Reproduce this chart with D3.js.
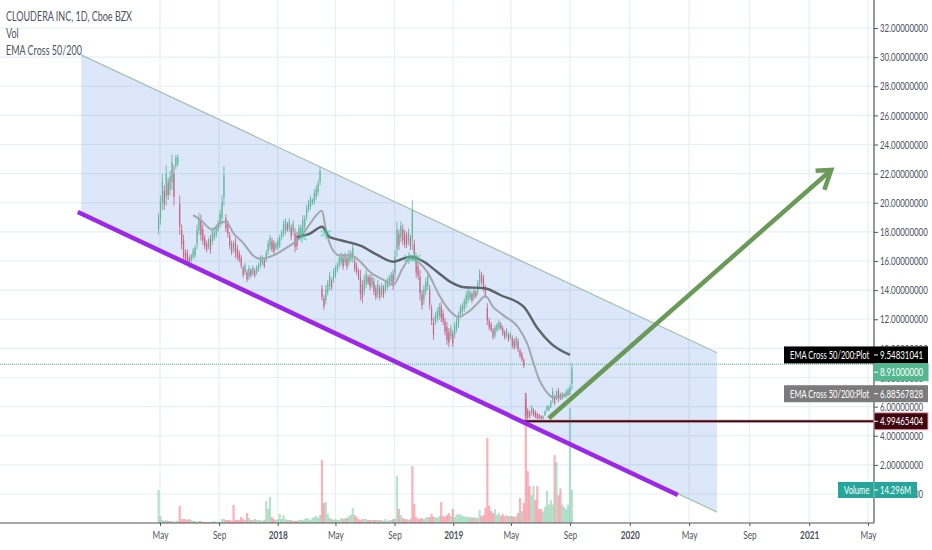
<!DOCTYPE html>
<html>
<head>
<meta charset="utf-8">
<script src="https://cdnjs.cloudflare.com/ajax/libs/d3/7.8.5/d3.min.js"></script>
<style>
  html, body { margin: 0; padding: 0; background: #fff; overflow: hidden; }
  text { font-family: "Lato", sans-serif; }
  .tick text { fill: #4c525e; font-size: 11.5px; }
  .tick line { stroke: #555; }
</style>
</head>
<body>
<svg id="chart" width="932" height="550"></svg>
<script>
// axis ticks
var priceTicks = [0, 2, 4, 6, 8, 10, 12, 14, 16, 18, 20, 22, 24, 26, 28, 30, 32];
var timeTicks = ["2017-05-01", "2017-09-01", "2018-01-01", "2018-05-01", "2018-09-01", "2019-01-01", "2019-05-01", "2019-09-01", "2020-01-01", "2020-05-01", "2020-09-01", "2021-01-01", "2021-05-01"];
var timeLabels = ["May", "Sep", "2018", "May", "Sep", "2019", "May", "Sep", "2020", "May", "Sep", "2021", "May"];

// price, one entry every 4 days from 2017-04-28
var candleHigh = [
  19.3,20.5,22,21.2,22.6,21.7,22.2,23.3,22.6,23.3,23.3,
  20.5,18.5,17.8,16.8,16.8,16.4,16.5,16.9,17.1,18.5,
  19.3,19.2,18.5,17.8,17.4,17.6,17.8,18.3,18.1,18.5,
  18.8,19.5,20.5,22.5,19.2,18.8,18,17.4,17.4,17.6,
  17.1,16.75,16.4,15.7,15.9,15.4,15.7,15.5,15.7,15.5,
  15.7,15.9,16.4,16.4,16.2,16.75,17.45,17.8,17.6,17.45,
  17.3,17.6,17.8,18.15,18.8,18.95,18.7,18.95,18.5,18.8,
  18.25,18,18.5,18.5,19.15,19.15,19.85,20.2,20.5,20.3,
  20.9,21.2,21.55,22.45,14.35,13.65,14.35,14.7,15.25,14.85,
  15.5,15.7,15.9,16.4,16.6,16.4,16.6,16.4,16.75,16.75,
  17.2,16.2,15.9,15.5,15.4,14.7,15.05,15.4,15.05,15.1,
  15.05,14.85,14.35,14.7,14.35,14.5,14.35,14.7,14.85,15.05,
  15.25,15.4,16.75,18.7,18.15,18.7,18.5,18.15,18,18.25,
  17.8,20.2,17.45,16.4,15.9,15.4,14,14.35,14.85,15.25,
  14.35,13,12.1,12.5,12.8,13.1,13.2,12.65,12.1,11.8,
  11.4,11.6,11.25,11.8,12.1,12.5,13,13.1,13.45,13.9,
  14.15,14,13.9,14.15,14,14.7,15.45,15.25,15.05,14.35,
  13.1,12.1,11.8,11.4,11.6,11.75,11.95,11.8,11.55,11.25,
  11.4,11.1,11.1,10.9,10.7,10.85,10.7,10,9.75,9.35,
  6.95,5.9,5.75,6.1,5.9,5.75,5.6,5.5,5.4,5.4,
  5.75,6.1,6.1,6.45,7.3,6.8,7.15,7.3,6.95,7,6.95,7.15,7.3,7.5,9
];
var candleLow = [
  17.8,18.5,19.5,19.5,19.8,20.2,20.5,20.9,19.8,22.3,22.5,
  17.8,16.8,15.9,15.9,15.7,15.5,15.9,16.1,16.2,16.8,
  17.8,17.4,17.1,16.8,16.6,16.8,16.5,17.1,17.4,17.6,
  18,18.3,18.5,19.8,18,17.6,16.8,16.4,16.6,16.2,
  16.05,15.9,15.5,14.85,15.05,14.55,14.7,14.85,15,14.85,
  15.05,15.25,15.5,15.7,15.5,15.9,16.4,16.75,16.6,16.4,
  16.75,16.75,16.9,17.45,17.65,17.8,18,18,17.45,17.8,
  16.6,16.75,17.45,17.6,17.65,18.15,18.8,19.35,19.5,19.85,
  19.85,20.2,20.5,21.2,13.3,12.65,13,13.65,14,14,
  14.5,14.85,15.2,15.5,15.7,15.4,15.7,15.4,15.7,15.9,
  15.9,15.25,15.05,14.7,13.3,13.1,13.65,14.15,14.35,14,
  14.15,13.65,13.3,13.45,13.3,13.5,13.45,13.8,14,14.2,
  14.35,14,14.7,16.3,16.75,17.3,17.1,16.9,16.9,17.1,
  16.75,16.75,16.2,14.85,14.7,13.3,12.65,13,13.65,14,
  12.65,11.6,10.6,11.6,11.8,11.95,11.8,11.6,10.9,10.25,
  10.1,10.6,10.1,10.7,11.1,11.4,12.1,12.3,12.5,12.8,
  13.1,13.3,13.1,13.3,13.45,13.65,14.2,14.35,13.9,13.45,
  11.6,11.25,11.1,10.6,10.7,11.1,11.25,11.25,10.85,10.6,
  10.7,10.45,10.6,10,9.9,10,9.75,9.35,9.05,8.65,
  4.95,5.1,5.2,5.4,5.3,5.2,5.1,5.15,5.1,5.1,
  5.35,5.65,5.7,5.9,6.25,6.1,6.45,6.3,6.45,6.45,6.6,6.6,6.75,6.8,7.15
];
// volume in millions, same dates
var volumes = [
  14.3,3,1.3,.9,1.3,.9,.9,.9,.4,.9,.9,
  7.4,1.7,1.7,1.7,1.3,1.7,1.3,.9,.9,.4,
  .9,.9,.4,.4,.4,.4,.4,.4,.9,.4,.4,.4,
  1.7,1.7,1.3,1.3,1.3,.9,7.8,1.3,1.3,1.3,2.6,1.7,1.3,
  4.3,2.2,1.3,1.3,1.7,1.3,1.3,1.3,.9,1.3,
  9.5,6.1,11.3,2.6,1.7,1.3,1.7,3.9,1.7,3.5,1.7,1.3,1.3,1.3,.9,
  .9,.9,1.3,1.3,1.3,1.7,2.2,1.7,1.3,2.2,2.6,3,2.2,3.5,
  27.3,8.7,9.1,3.9,2.2,1.7,1.3,1.7,1.3,1.3,2.2,1.7,2.2,2.2,3,3.5,
  6.5,3.5,2.6,1.7,1.3,1.7,1.7,1.7,1.3,1.3,1.3,1.3,1.3,1.3,1.3,
  1.3,.9,1.7,.9,1.3,1.3,1.7,1.7,20.4,6.1,3.5,2.2,1.7,1.7,1.3,1.7,
  24.7,8.3,2.6,1.7,1.7,2.2,1.7,2.2,2.6,2.6,3.9,2.6,2.6,2.2,3,9.1,3,2.6,3.5,
  4.3,3,6.1,2.6,3.9,3.5,3.9,3,3,2.6,2.6,2.6,2.2,2.6,2.2,2.2,5.6,3,3.5,
  6.5,36.8,7.4,5.2,4.3,6,3.5,4.3,3,3.9,3,3.5,3,3,3,2.6,3,4.3,10.8,5.2,8.7,
  56.3,22.5,16,12,16,10,16,6,6,5,7,14,8,10,8,29.4,26.4,12,15,8,7,6,8,49.8,14.296
];
// which volume spikes are teal or pink, whatever the candle did
var volumeUp = [0, 58, 124, 189, 195, 201, 207, 214, 215];
var volumeDown = [11, 39, 85, 132, 171, 191, 206];

// moving averages: index into the candle dates, then value
var ema50Index = [18,22,28,32,35,39,44,49,53,60,67,74,79,85,87,90,94,100,105,110,117,122,127,131,135,140,146,151,156,161,166,170,174,179,187,192,195,198,201,205,214];
var ema50Values = [19.15,18.8,18.15,18.6,18.7,17.9,17.25,16.4,16.15,16.4,16.95,17.65,18.6,19.45,18.15,16.9,16.4,16.4,15.95,15.25,14.7,14.35,15.5,16.2,15.95,15.2,13.65,12.65,12.15,12.5,13.1,13.6,12.85,12.3,11.45,10.25,9,7.85,7.15,6.65,6.886];
var ema200Index = [72,79,85,89,94,105,114,122,131,138,145,152,159,169,178,190,197,204,214];
var ema200Values = [17.65,17.9,18.35,17.65,17.45,17.05,16.4,15.95,16.3,15.95,15.25,14.55,14.2,14.15,13.65,12.85,11.4,10.35,9.548];
var crossDates = ["2018-02-20", "2018-04-11", "2018-10-01", "2018-10-15"];
var crossValues = [17.65, 17.9, 16.2, 16.2];

// hand drawn objects
var channelDates = ["2016-11-18", "2020-06-27", "2020-06-27", "2016-11-18"];
var channelValues = [30.15, 9.7, -1.24, 19.2];
var purpleDates = ["2016-11-11", "2020-04-08"];
var purpleValues = [19.37, -0.07];
var arrowDates = ["2019-07-19", "2021-02-15"];
var arrowValues = [5.2, 22.25];
var arrowHeadDates = ["2021-01-14", "2021-02-15", "2021-02-01"];
var arrowHeadValues = [22.2, 22.25, 20.9];
var supportValue = 4.99465404;
var supportStart = "2019-05-20";
var lastPrice = 8.91;
var ema200Last = 9.54831041;
var ema50Last = 6.88567828;
var lastVolume = 14.296;

var parseDay = d3.utcParse("%Y-%m-%d");
var axisX = 874, axisY = 523;
var svg = d3.select("#chart");

var x = d3.scaleUtc()
  .domain([parseDay("2017-05-01"), parseDay("2019-09-01"), parseDay("2021-05-01")])
  .range([160, 570, 868]);
var y = d3.scaleLinear().domain([0, 32]).range([494, 28]);
var yVol = d3.scaleLinear().domain([0, lastVolume]).range([axisY, 490]);

var startDay = parseDay("2017-04-28");
var candleDates = candleHigh.map(function (d, i) { return d3.utcDay.offset(startDay, i * 4); });
var mid = candleHigh.map(function (d, i) { return (d + candleLow[i]) / 2; });
var rising = mid.map(function (d, i) {
  return i == 0 ? true : d >= mid[i - 1];
});

// the chart's text is narrow, Lato squeezed sideways comes close
function squeezed(parent, px, py, k, size, fill, str) {
  return parent.append("text")
    .attr("transform", "translate(" + px + "," + py + ") scale(" + k + ",1)")
    .attr("font-size", size).attr("fill", fill).text(str);
}

// grid
var grid = svg.append("g");
grid.selectAll(".h").data(priceTicks).enter().append("line")
  .attr("x1", 0).attr("x2", axisX)
  .attr("y1", function (d) { return y(d); }).attr("y2", function (d) { return y(d); })
  .attr("stroke", "#e6eff6").attr("stroke-width", 1.2);
grid.selectAll(".v").data(timeTicks).enter().append("line")
  .attr("y1", 0).attr("y2", axisY)
  .attr("x1", function (d) { return x(parseDay(d)); }).attr("x2", function (d) { return x(parseDay(d)); })
  .attr("stroke", "#e6eff6").attr("stroke-width", 1.2);

// volume
svg.append("g").selectAll("rect").data(volumes).enter().append("rect")
  .attr("x", function (d, i) { return x(candleDates[i]) - 1.1; })
  .attr("width", 2.2)
  .attr("y", function (d) { return yVol(d); })
  .attr("height", function (d) { return axisY - yVol(d); })
  .attr("fill", function (d, i) {
    var up = rising[i];
    if (volumeUp.indexOf(i) >= 0) up = true;
    if (volumeDown.indexOf(i) >= 0) up = false;
    return up ? "#53b987" : "#eb4d5c";
  })
  .attr("opacity", 0.42);

// channel
function pts(dates, values) {
  return dates.map(function (d, i) { return [x(parseDay(d)), y(values[i])]; });
}
var channel = pts(channelDates, channelValues);
svg.append("path")
  .attr("d", d3.line()(channel) + "Z")
  .attr("fill", "rgba(60,120,220,0.18)");
svg.append("path")
  .attr("d", d3.line()([channel[0], channel[1]]))
  .attr("fill", "none").attr("stroke", "#a9c2ae").attr("stroke-width", 1.3);
svg.append("path")
  .attr("d", d3.line()([channel[2], channel[3]]))
  .attr("fill", "none").attr("stroke", "#a9c2ae").attr("stroke-width", 1.3);

// last price dotted line
svg.append("line")
  .attr("x1", 0).attr("x2", axisX)
  .attr("y1", y(lastPrice)).attr("y2", y(lastPrice))
  .attr("stroke", "#53b987").attr("stroke-width", 1).attr("stroke-dasharray", "1 1");

// candles
var candles = svg.append("g").selectAll("g").data(candleHigh).enter().append("g");
candles.append("line")
  .attr("x1", function (d, i) { return x(candleDates[i]); })
  .attr("x2", function (d, i) { return x(candleDates[i]); })
  .attr("y1", function (d) { return y(d); })
  .attr("y2", function (d, i) { return y(candleLow[i]); })
  .attr("stroke", function (d, i) { return rising[i] ? "#5bb596" : "#c6607f"; })
  .attr("stroke-width", 0.8);
candles.append("rect")
  .attr("x", function (d, i) { return x(candleDates[i]) - 0.6; })
  .attr("width", 1.2)
  .attr("y", function (d, i) { return y(d - (d - candleLow[i]) * 0.22); })
  .attr("height", function (d, i) { return (y(candleLow[i]) - y(d)) * 0.56; })
  .attr("fill", function (d, i) { return rising[i] ? "#5bb596" : "#c6607f"; })
  .attr("opacity", 0.85);

// ema lines
var emaLine = d3.line()
  .x(function (d) { return x(candleDates[d[0]]); })
  .y(function (d) { return y(d[1]); })
  .curve(d3.curveMonotoneX);
svg.append("path")
  .attr("d", emaLine(ema50Index.map(function (d, i) { return [d, ema50Values[i]]; })))
  .attr("fill", "none").attr("stroke", "#a3a7ae").attr("stroke-width", 2);
svg.append("path")
  .attr("d", emaLine(ema200Index.map(function (d, i) { return [d, ema200Values[i]]; })))
  .attr("fill", "none").attr("stroke", "#5d6367").attr("stroke-width", 2.4);

// ema cross stars
svg.append("g").selectAll("path").data(crossDates).enter().append("path")
  .attr("d", d3.symbol().type(d3.symbolAsterisk).size(90))
  .attr("transform", function (d, i) { return "translate(" + x(parseDay(d)) + "," + y(crossValues[i]) + ")"; })
  .attr("fill", "none").attr("stroke", "#4fcaa3").attr("stroke-width", 2).attr("opacity", 0.55);

// support line
svg.append("line")
  .attr("x1", x(parseDay(supportStart))).attr("x2", axisX)
  .attr("y1", y(supportValue)).attr("y2", y(supportValue))
  .attr("stroke", "#e8a5b0").attr("stroke-width", 3.4).attr("opacity", 0.7);
svg.append("line")
  .attr("x1", x(parseDay(supportStart))).attr("x2", axisX)
  .attr("y1", y(supportValue)).attr("y2", y(supportValue))
  .attr("stroke", "#3f0a14").attr("stroke-width", 1.8);

// purple trend line
svg.append("path")
  .attr("d", d3.line()(pts(purpleDates, purpleValues)))
  .attr("stroke", "#9c27e8").attr("stroke-width", 4.5).attr("fill", "none");

// green arrow
svg.append("path")
  .attr("d", d3.line()(pts(arrowDates, arrowValues)))
  .attr("stroke", "#6a9a58").attr("stroke-width", 4.5).attr("fill", "none");
svg.append("path")
  .attr("d", d3.line()(pts(arrowHeadDates, arrowHeadValues)))
  .attr("stroke", "#6a9a58").attr("stroke-width", 4.5).attr("fill", "none");

// axes
var yAxis = d3.axisRight(y).tickValues(priceTicks).tickSize(4).tickPadding(2)
  .tickFormat(function (d) { return d3.format(".8f")(d); });
var yG = svg.append("g").attr("transform", "translate(" + axisX + ",0)").call(yAxis);
yG.select(".domain").remove();
// 8 and 10 sit behind the tags, only their edges show
yG.selectAll(".tick text")
  .attr("transform", "scale(0.69,1)")
  .attr("x", 6 / 0.69);

var xAxis = d3.axisBottom(x).tickValues(timeTicks.map(parseDay)).tickSize(3).tickPadding(5)
  .tickFormat(function (d, i) { return timeLabels[i]; });
var xG = svg.append("g").attr("transform", "translate(0," + axisY + ")").call(xAxis);
xG.select(".domain").remove();
xG.selectAll(".tick text")
  .attr("transform", "scale(0.75,1)")
  .attr("font-weight", function (d, i) { return timeLabels[i].length == 4 ? "bold" : "normal"; })
  .style("font-size", "11px");

svg.append("line").attr("x1", 0).attr("x2", axisX).attr("y1", axisY).attr("y2", axisY)
  .attr("stroke", "#555").attr("stroke-width", 1.2);
svg.append("line").attr("x1", axisX).attr("x2", axisX).attr("y1", 0).attr("y2", axisY)
  .attr("stroke", "#555").attr("stroke-width", 1.2);

// labels on the price axis, shift pushes a tag clear of the one above it
function priceTag(value, text, fill, border, shift) {
  var cy = y(value) + (shift || 0);
  var g = svg.append("g");
  g.append("rect").attr("x", axisX).attr("y", cy - 8.5).attr("width", 54).attr("height", 17)
    .attr("fill", fill).attr("stroke", border || fill);
  g.append("line").attr("x1", axisX).attr("x2", axisX + 4).attr("y1", cy).attr("y2", cy).attr("stroke", "#fff");
  squeezed(g, axisX + 6, cy + 4, 0.69, 11.5, "#fff", text);
}
function emaTag(value, text, fill) {
  var cy = y(value);
  var g = svg.append("g");
  g.append("rect").attr("x", 784).attr("y", cy - 8.5).attr("width", 144).attr("height", 17).attr("fill", fill);
  squeezed(g, 790, cy + 4, 0.69, 11, "#fff", "EMA Cross 50/200:Plot");
  g.append("line").attr("x1", axisX).attr("x2", axisX + 4).attr("y1", cy).attr("y2", cy).attr("stroke", "#fff");
  squeezed(g, axisX + 6, cy + 4, 0.69, 11.5, "#fff", text);
}
emaTag(ema200Last, d3.format(".8f")(ema200Last), "#000");
priceTag(lastPrice, d3.format(".8f")(lastPrice), "#53b78f", null, 8);
emaTag(ema50Last, d3.format(".8f")(ema50Last), "#7b7b7b");
priceTag(supportValue, d3.format(".8f")(supportValue), "#3f0610", "#e8a5b0");

// volume tag
var volTagY = yVol(lastVolume);
svg.append("rect").attr("x", 838).attr("y", volTagY - 8).attr("width", 79).attr("height", 16).attr("fill", "#26a69a");
squeezed(svg, 844, volTagY + 4, 0.7, 11, "#fff", "Volume");
svg.append("line").attr("x1", axisX).attr("x2", axisX).attr("y1", volTagY - 8).attr("y2", volTagY + 8).attr("stroke", "#8fb5b0");
svg.append("line").attr("x1", axisX).attr("x2", axisX + 4).attr("y1", volTagY).attr("y2", volTagY).attr("stroke", "#fff");
squeezed(svg, axisX + 6, volTagY + 4, 0.7, 11, "#fff", d3.format(".3f")(lastVolume) + "M");

// legend
var legend = ["CLOUDERA INC, 1D, Cboe BZX", "Vol", "EMA Cross 50/200"];
legend.forEach(function (d, i) {
  squeezed(svg, 6, 21 + i * 17, 0.72, 12.5, "#4c525e", d);
});
</script>
</body>
</html>
